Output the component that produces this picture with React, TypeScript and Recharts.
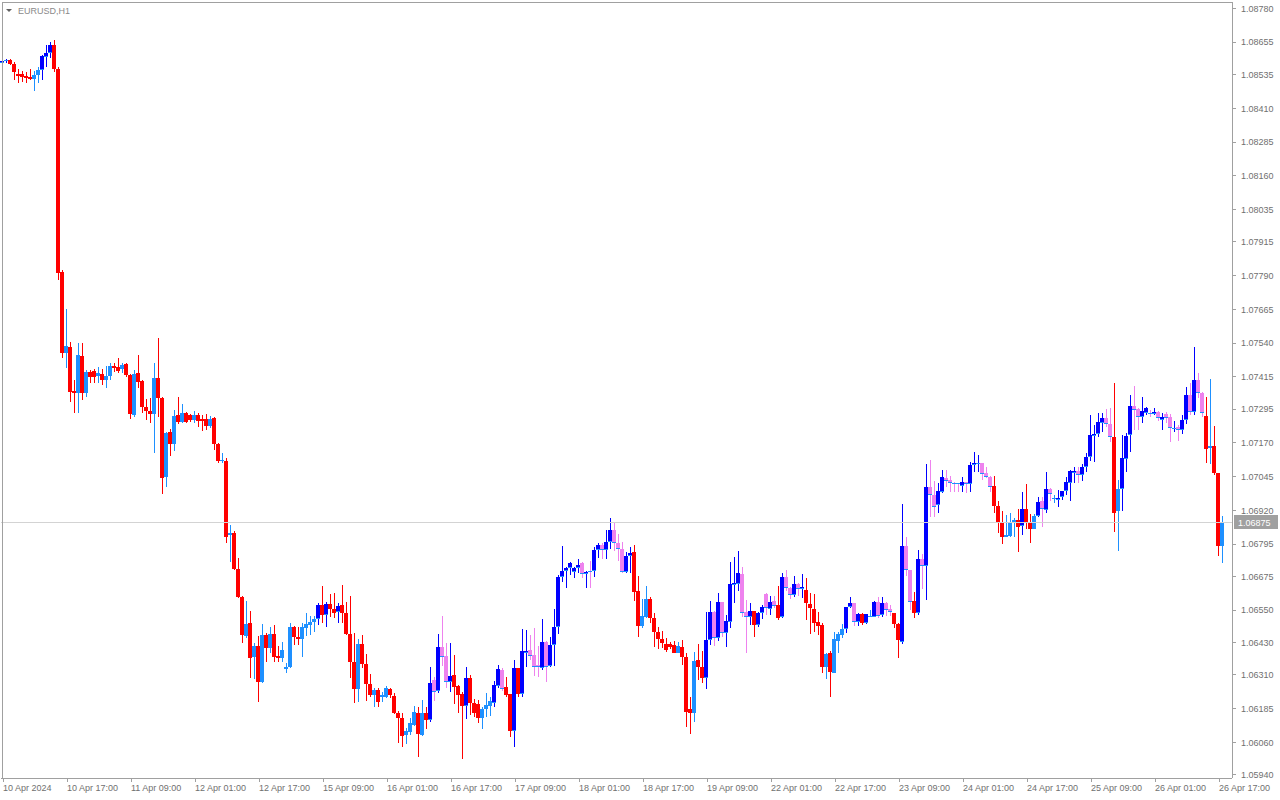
import { Bar, ComposedChart, ReferenceLine, XAxis, YAxis } from "recharts";

// EURUSD H1 candles, 10 Apr 01:00 .. 26 Apr 18:00 (306 bars)
const OPEN = [
  1.08578, 1.08585, 1.08589, 1.08574, 1.08537, 1.08537, 1.0853, 1.08526, 1.08519, 1.08533,
  1.08552, 1.086, 1.08615, 1.08644, 1.08556, 1.07803, 1.07503, 1.07525, 1.07362, 1.07355,
  1.07492, 1.07355, 1.07432, 1.07436, 1.07418, 1.07425, 1.07403, 1.07418, 1.07455, 1.07451,
  1.07444, 1.07462, 1.07421, 1.07273, 1.07429, 1.07399, 1.07303, 1.07288, 1.07277, 1.0741,
  1.07336, 1.07043, 1.0721, 1.07166, 1.07273, 1.07247, 1.07281, 1.07273, 1.07255, 1.07273,
  1.07258, 1.07258, 1.07232, 1.07262, 1.07166, 1.07103, 1.07103, 1.06828, 1.06836, 1.06702,
  1.06599, 1.06454, 1.06502, 1.06376, 1.06417, 1.06284, 1.06458, 1.0641, 1.06462, 1.0638,
  1.06372, 1.06332, 1.06339, 1.06487, 1.0645, 1.06443, 1.06484, 1.06495, 1.06506, 1.06517,
  1.06569, 1.06532, 1.06573, 1.06554, 1.06543, 1.06569, 1.06539, 1.06462, 1.06358, 1.06258,
  1.06424, 1.0635, 1.06276, 1.06235, 1.06254, 1.06228, 1.06228, 1.06258, 1.06232, 1.06169,
  1.0615, 1.06087, 1.06098, 1.06124, 1.06169, 1.06087, 1.06169, 1.06143, 1.06291, 1.0625,
  1.06413, 1.0638, 1.06284, 1.0631, 1.06269, 1.06239, 1.06195, 1.06298, 1.06206, 1.06202,
  1.0615, 1.06184, 1.06195, 1.06206, 1.06269, 1.06328, 1.06265, 1.06239, 1.06102, 1.06335,
  1.06239, 1.06391, 1.06402, 1.06384, 1.06347, 1.06335, 1.06432, 1.06343, 1.06421, 1.06487,
  1.06673, 1.06695, 1.06706, 1.06691, 1.06706, 1.06725, 1.06684, 1.06695, 1.06695, 1.06773,
  1.06791, 1.06773, 1.06802, 1.06847, 1.06799, 1.06777, 1.06691, 1.06751, 1.06765, 1.06621,
  1.06491, 1.06524, 1.06591, 1.06521, 1.06469, 1.06443, 1.06424, 1.06424, 1.06421, 1.06391,
  1.06413, 1.06376, 1.06184, 1.06169, 1.06365, 1.06339, 1.06298, 1.06439, 1.06543, 1.06447,
  1.0658, 1.06465, 1.06506, 1.06643, 1.06647, 1.06684, 1.06543, 1.06524, 1.06547, 1.06495,
  1.06539, 1.0661, 1.06554, 1.06584, 1.06569, 1.06524, 1.06673, 1.06632, 1.06606, 1.06647,
  1.06628, 1.06625, 1.06573, 1.06554, 1.06506, 1.06495, 1.06339, 1.06391, 1.06317, 1.06436,
  1.06458, 1.0648, 1.06562, 1.06576, 1.06506, 1.06536, 1.06502, 1.06524, 1.06524, 1.0658,
  1.06532, 1.06576, 1.06554, 1.06539, 1.06499, 1.06432, 1.06788, 1.06699, 1.06584, 1.06539,
  1.06739, 1.06713, 1.07006, 1.06977, 1.0694, 1.06988, 1.0704, 1.07032, 1.07021, 1.07021,
  1.0701, 1.07025, 1.07017, 1.07088, 1.07092, 1.07095, 1.07058, 1.07043, 1.0701, 1.06936,
  1.06873, 1.06821, 1.06825, 1.06873, 1.06884, 1.06862, 1.06925, 1.06873, 1.06851, 1.06899,
  1.06954, 1.06921, 1.06999, 1.06962, 1.06958, 1.06969, 1.06991, 1.07021, 1.07058, 1.07066,
  1.07051, 1.07081, 1.07118, 1.07195, 1.07203, 1.07244, 1.07262, 1.0724, 1.07192, 1.06917,
  1.06999, 1.0711, 1.07199, 1.07307, 1.07295, 1.07266, 1.07281, 1.07281, 1.07277, 1.07284,
  1.07255, 1.07277, 1.07266, 1.07221, 1.07229, 1.07218, 1.07255, 1.07347, 1.07284, 1.07403,
  1.07355, 1.0727, 1.07151, 1.07158, 1.07058, 1.06788,
];

const HIGH = [
  1.08596, 1.08593, 1.08593, 1.08582, 1.08556, 1.08548, 1.08544, 1.08556, 1.08548, 1.08563,
  1.08607, 1.08644, 1.08655, 1.08663, 1.08563, 1.07811, 1.07666, 1.07544, 1.07403, 1.0754,
  1.0754, 1.0744, 1.0744, 1.07444, 1.07451, 1.07444, 1.07455, 1.07466, 1.07466, 1.07484,
  1.07466, 1.07466, 1.07425, 1.0744, 1.07496, 1.07403, 1.07332, 1.07336, 1.07466, 1.07559,
  1.0734, 1.0721, 1.07221, 1.07292, 1.0734, 1.07314, 1.07284, 1.07277, 1.07288, 1.07281,
  1.07273, 1.07277, 1.0727, 1.07266, 1.07169, 1.07132, 1.07114, 1.06865, 1.06843, 1.06743,
  1.06602, 1.06584, 1.06547, 1.06428, 1.06454, 1.06499, 1.06465, 1.06487, 1.06495, 1.06417,
  1.06432, 1.06354, 1.06502, 1.06491, 1.06487, 1.06502, 1.06539, 1.06528, 1.06528, 1.06576,
  1.06639, 1.0658, 1.0661, 1.06613, 1.06576, 1.06643, 1.0658, 1.06602, 1.06465, 1.06443,
  1.06458, 1.06387, 1.06313, 1.06261, 1.06261, 1.06247, 1.06269, 1.06261, 1.06243, 1.06176,
  1.06169, 1.06113, 1.0615, 1.06195, 1.06191, 1.06217, 1.06191, 1.06339, 1.06302, 1.06462,
  1.06528, 1.06428, 1.06428, 1.06384, 1.06273, 1.06247, 1.06339, 1.0631, 1.06221, 1.06217,
  1.06191, 1.06243, 1.06228, 1.06287, 1.06347, 1.06335, 1.06302, 1.06239, 1.06365, 1.06335,
  1.0648, 1.06476, 1.06458, 1.06484, 1.06417, 1.06517, 1.06436, 1.0645, 1.06554, 1.0668,
  1.06788, 1.0671, 1.06728, 1.0671, 1.06739, 1.06728, 1.06695, 1.06732, 1.06784, 1.06799,
  1.06799, 1.06847, 1.06891, 1.06873, 1.06832, 1.06802, 1.06765, 1.06784, 1.06791, 1.06677,
  1.06591, 1.06639, 1.06599, 1.06539, 1.06487, 1.06473, 1.06447, 1.06432, 1.06436, 1.06432,
  1.06439, 1.06391, 1.06228, 1.06395, 1.06424, 1.06398, 1.06543, 1.06584, 1.06547, 1.06613,
  1.0658, 1.06532, 1.06728, 1.06747, 1.06769, 1.0671, 1.06587, 1.06576, 1.06547, 1.06543,
  1.06569, 1.06613, 1.06602, 1.06602, 1.06639, 1.06688, 1.06699, 1.06636, 1.06677, 1.0665,
  1.06684, 1.06669, 1.06613, 1.0661, 1.06543, 1.06502, 1.06391, 1.06398, 1.06469, 1.06469,
  1.06499, 1.06562, 1.06599, 1.06576, 1.06539, 1.06539, 1.06536, 1.0655, 1.06584, 1.06599,
  1.06599, 1.0658, 1.06569, 1.06539, 1.06502, 1.06943, 1.06821, 1.06699, 1.06617, 1.06773,
  1.06758, 1.07092, 1.07106, 1.07029, 1.07021, 1.07069, 1.07069, 1.07047, 1.07025, 1.07021,
  1.07043, 1.07025, 1.07099, 1.07136, 1.07125, 1.07095, 1.07081, 1.07047, 1.07047, 1.06954,
  1.06917, 1.06902, 1.0691, 1.06891, 1.06925, 1.06988, 1.07017, 1.06906, 1.06906, 1.06969,
  1.06969, 1.07062, 1.07003, 1.06977, 1.06995, 1.06991, 1.07043, 1.07069, 1.07081, 1.07081,
  1.07092, 1.07132, 1.07273, 1.07236, 1.07281, 1.07281, 1.07295, 1.07299, 1.07392, 1.07032,
  1.07199, 1.07207, 1.07347, 1.07381, 1.07299, 1.0734, 1.07303, 1.07292, 1.07299, 1.07288,
  1.07281, 1.07284, 1.07277, 1.07251, 1.07236, 1.07273, 1.07377, 1.07392, 1.07525, 1.07429,
  1.07358, 1.0734, 1.07407, 1.07232, 1.07058, 1.06899,
];

const LOW = [
  1.08563, 1.08578, 1.0857, 1.08515, 1.08504, 1.08508, 1.08504, 1.08515, 1.08474, 1.08504,
  1.08515, 1.08563, 1.08596, 1.08544, 1.07774, 1.07484, 1.07447, 1.07321, 1.07281, 1.07281,
  1.07329, 1.0734, 1.07392, 1.07392, 1.07392, 1.07384, 1.07373, 1.07403, 1.07432, 1.07429,
  1.07429, 1.07414, 1.07258, 1.07266, 1.07373, 1.07281, 1.07255, 1.07244, 1.07132, 1.07266,
  1.0698, 1.07006, 1.07121, 1.0714, 1.0724, 1.07244, 1.07244, 1.07247, 1.07244, 1.07229,
  1.07214, 1.07218, 1.07225, 1.07143, 1.07095, 1.07095, 1.06799, 1.06728, 1.06699, 1.06595,
  1.06428, 1.06447, 1.06298, 1.06295, 1.06209, 1.0628, 1.06358, 1.06391, 1.06358, 1.06358,
  1.06358, 1.06317, 1.06335, 1.06421, 1.06421, 1.06376, 1.06454, 1.06458, 1.06469, 1.06495,
  1.06502, 1.06487, 1.06524, 1.06521, 1.06502, 1.06502, 1.06458, 1.06298, 1.06206, 1.06209,
  1.06335, 1.06213, 1.06228, 1.06191, 1.06191, 1.06209, 1.06224, 1.06224, 1.06165, 1.06057,
  1.06043, 1.06054, 1.06087, 1.06121, 1.06006, 1.06083, 1.06109, 1.06135, 1.06213, 1.06243,
  1.06343, 1.06261, 1.06247, 1.06202, 1.06169, 1.05998, 1.06146, 1.06161, 1.06154, 1.06132,
  1.06109, 1.06154, 1.06158, 1.06191, 1.06261, 1.0625, 1.06228, 1.0608, 1.06043, 1.06228,
  1.06228, 1.06339, 1.06365, 1.06306, 1.06302, 1.06328, 1.06284, 1.06339, 1.06343, 1.06462,
  1.06654, 1.06632, 1.0668, 1.06669, 1.06688, 1.06669, 1.06632, 1.06632, 1.06673, 1.06743,
  1.06739, 1.06739, 1.06777, 1.06769, 1.06732, 1.06688, 1.06688, 1.06688, 1.06584, 1.0645,
  1.06484, 1.06521, 1.06502, 1.06413, 1.06406, 1.0641, 1.06395, 1.06406, 1.06391, 1.06391,
  1.06347, 1.06117, 1.06091, 1.06135, 1.06291, 1.0628, 1.06258, 1.06421, 1.06417, 1.06436,
  1.0645, 1.06413, 1.06484, 1.06576, 1.06621, 1.06524, 1.06391, 1.06495, 1.0645, 1.06487,
  1.06517, 1.06532, 1.06532, 1.06558, 1.06513, 1.06521, 1.06621, 1.06591, 1.06599, 1.06602,
  1.06595, 1.06513, 1.06462, 1.06469, 1.06458, 1.06317, 1.06295, 1.06228, 1.06317, 1.06391,
  1.06447, 1.06465, 1.06558, 1.06491, 1.06491, 1.06495, 1.06499, 1.06524, 1.06524, 1.06521,
  1.06524, 1.06528, 1.06528, 1.06484, 1.06372, 1.06424, 1.06677, 1.0655, 1.06521, 1.06532,
  1.06628, 1.06588, 1.06895, 1.06895, 1.0691, 1.06984, 1.07006, 1.06988, 1.06988, 1.06988,
  1.06988, 1.06984, 1.06988, 1.07062, 1.07062, 1.07032, 1.0704, 1.06988, 1.0691, 1.06836,
  1.06795, 1.06821, 1.06821, 1.06821, 1.06765, 1.06828, 1.06851, 1.06799, 1.06851, 1.06895,
  1.06858, 1.0691, 1.06954, 1.06947, 1.06932, 1.06958, 1.06977, 1.06954, 1.07021, 1.07021,
  1.07029, 1.07062, 1.07103, 1.07099, 1.07192, 1.0721, 1.07229, 1.07173, 1.0684, 1.06769,
  1.06917, 1.07062, 1.07136, 1.07218, 1.07218, 1.07244, 1.07273, 1.07266, 1.07273, 1.07251,
  1.07218, 1.07244, 1.07173, 1.0721, 1.07177, 1.07203, 1.0724, 1.07273, 1.07273, 1.07336,
  1.07266, 1.07095, 1.07092, 1.07051, 1.06751, 1.06725,
];

const CLOSE = [
  1.08585, 1.08589, 1.08574, 1.08544, 1.0853, 1.08526, 1.08522, 1.08519, 1.08533, 1.08552,
  1.08604, 1.08615, 1.08644, 1.08556, 1.078, 1.07503, 1.07529, 1.07358, 1.07355, 1.07496,
  1.07355, 1.07432, 1.07414, 1.07414, 1.07429, 1.07403, 1.07418, 1.07455, 1.07447, 1.07436,
  1.07459, 1.07421, 1.07277, 1.07425, 1.07396, 1.07303, 1.07288, 1.07277, 1.0741, 1.07336,
  1.0704, 1.07207, 1.07166, 1.0727, 1.07247, 1.07281, 1.07247, 1.07255, 1.07273, 1.07251,
  1.07251, 1.07232, 1.07258, 1.07166, 1.07103, 1.07106, 1.06821, 1.06836, 1.06702, 1.06599,
  1.06458, 1.06499, 1.06372, 1.06417, 1.06284, 1.06458, 1.0641, 1.06462, 1.06376, 1.06372,
  1.06402, 1.06339, 1.06487, 1.0645, 1.06443, 1.06487, 1.06499, 1.06506, 1.06517, 1.06569,
  1.06532, 1.06573, 1.06554, 1.06539, 1.06565, 1.06539, 1.06462, 1.06358, 1.06258, 1.06424,
  1.0635, 1.06276, 1.06235, 1.06254, 1.06209, 1.06235, 1.06261, 1.06235, 1.06169, 1.0615,
  1.06083, 1.06102, 1.06132, 1.06172, 1.06091, 1.06169, 1.06143, 1.0628, 1.06247, 1.06413,
  1.06376, 1.06284, 1.06306, 1.06265, 1.06235, 1.06195, 1.06298, 1.06206, 1.06169, 1.0615,
  1.06184, 1.06198, 1.06213, 1.06273, 1.06332, 1.06258, 1.06235, 1.06102, 1.06335, 1.06239,
  1.06398, 1.06398, 1.0638, 1.06339, 1.06339, 1.06432, 1.06339, 1.06421, 1.06487, 1.06673,
  1.06695, 1.06706, 1.06725, 1.06706, 1.06717, 1.06684, 1.06691, 1.06691, 1.06773, 1.06791,
  1.06773, 1.06802, 1.06847, 1.06799, 1.06777, 1.06691, 1.06751, 1.06762, 1.06617, 1.06491,
  1.06528, 1.06591, 1.06521, 1.06469, 1.06443, 1.06428, 1.06402, 1.06413, 1.06391, 1.06417,
  1.06376, 1.06172, 1.06169, 1.06361, 1.06339, 1.06298, 1.06439, 1.06543, 1.06447, 1.0658,
  1.06465, 1.0651, 1.06647, 1.0665, 1.06688, 1.06539, 1.06524, 1.06547, 1.06495, 1.06539,
  1.06562, 1.06558, 1.0658, 1.06565, 1.06521, 1.06673, 1.06632, 1.06606, 1.06647, 1.06628,
  1.06636, 1.06576, 1.06558, 1.06502, 1.06491, 1.06339, 1.06387, 1.06321, 1.06443, 1.06462,
  1.0648, 1.06562, 1.06576, 1.06506, 1.06536, 1.06502, 1.06536, 1.06528, 1.0658, 1.06528,
  1.06576, 1.0655, 1.06543, 1.06499, 1.06439, 1.06788, 1.06699, 1.0658, 1.06539, 1.06739,
  1.06713, 1.07006, 1.06977, 1.06932, 1.06991, 1.07043, 1.07029, 1.07021, 1.07017, 1.07017,
  1.07025, 1.07017, 1.07088, 1.07095, 1.07095, 1.07055, 1.07043, 1.07006, 1.06936, 1.06873,
  1.06821, 1.06828, 1.06877, 1.06884, 1.06858, 1.06925, 1.06873, 1.06851, 1.06899, 1.06951,
  1.06925, 1.06999, 1.0698, 1.06966, 1.06966, 1.06991, 1.07025, 1.07066, 1.07066, 1.07051,
  1.07081, 1.07118, 1.07199, 1.07203, 1.07247, 1.07262, 1.0724, 1.07192, 1.0691, 1.06999,
  1.07114, 1.07195, 1.07307, 1.07292, 1.07266, 1.07288, 1.07299, 1.07277, 1.07284, 1.07262,
  1.07266, 1.07262, 1.07225, 1.07225, 1.07218, 1.07255, 1.07347, 1.07284, 1.07403, 1.07355,
  1.07281, 1.07147, 1.07158, 1.07058, 1.06788, 1.06875,
];

// indicator state per bar: B = up, L = up (weak), R = down, V = down (weak)
const STATE = (
  "BBRRRRRRLLBBBRRRLRRL" + "RLRRLRLLRRLRRLRRRRLR" + "RLRLRLRRLRRRLRRLRLRR" +
  "RLRLRLRLRRLLLRRLLLLB" + "RBRRBRRRRLRRRLRLLRRR" + "RLLLRLRBVBVVBRRRBRRR" +
  "LLLBBVRRBRBBVVVBVBBB" + "BBBBBVBVBBVBBVVVBBRR" + "LLRRRRRRRLRRRLRRBBVB" +
  "VBBBBVVBRBBVBVRBVVBV" + "BRRRRRLRLLLBBVBRBLBV" + "BVVRRBVVRBVBVVBBVVVV" +
  "BVBBBVVVRRRLLLRBRRLB" + "VBVLBBBBBVBBBBBBVVRL" + "BBBVVBBVBVBVVBVBBVBV" + "VRLRRL"
).split("");

const TIME_TICKS = [0, 16, 32, 48, 64, 80, 96, 112, 128, 144, 160, 176, 192, 208, 224, 240, 256, 272, 288, 304];
const TIME_LABELS = [
  "10 Apr 2024", "10 Apr 17:00", "11 Apr 09:00", "12 Apr 01:00", "12 Apr 17:00",
  "15 Apr 09:00", "16 Apr 01:00", "16 Apr 17:00", "17 Apr 09:00", "18 Apr 01:00",
  "18 Apr 17:00", "19 Apr 09:00", "22 Apr 01:00", "22 Apr 17:00", "23 Apr 09:00",
  "24 Apr 01:00", "24 Apr 17:00", "25 Apr 09:00", "26 Apr 01:00", "26 Apr 17:00",
];

const PRICE_TICKS = [
  1.0878, 1.08655, 1.08535, 1.0841, 1.08285, 1.0816, 1.08035, 1.07915, 1.0779, 1.07665,
  1.0754, 1.07415, 1.07295, 1.0717, 1.07045, 1.0692, 1.06795, 1.06675, 1.0655, 1.0643,
  1.0631, 1.06185, 1.0606, 1.0594,
];

const LAST_PRICE = 1.06875;

const COLORS: Record<string, string> = {
  B: "#0000ff",
  L: "#1e90ff",
  R: "#ff0000",
  V: "#ee82ee",
};

const FONT = "'Liberation Sans', Arial, sans-serif";
const AXIS_GRAY = "#a0a0a0";
const TEXT_GRAY = "#707070";

const data = OPEN.map((open, i) => ({
  i,
  open,
  high: HIGH[i],
  low: LOW[i],
  close: CLOSE[i],
  state: STATE[i],
  range: [LOW[i], HIGH[i]],
}));

function Candle(props: any) {
  const { x, y, width, height, payload } = props;
  if (!payload) return null;
  const { open, high, low, close, state } = payload;
  const color = COLORS[state];
  const yTop = Math.min(y, y + height);
  const h = Math.abs(height);
  const k = high === low ? 0 : h / (high - low);
  const toY = (v: number) => yTop + (high - v) * k;
  const cx = Math.floor(x + width / 2);
  const bodyTop = Math.round(toY(Math.max(open, close)));
  const bodyBot = Math.max(bodyTop + 1, Math.round(toY(Math.min(open, close))));
  const wickTop = Math.round(yTop);
  const wickBot = Math.max(wickTop + 1, Math.round(yTop + h));
  const marker = state === "B" || state === "V";
  return (
    <g>
      <rect x={cx} y={wickTop} width={1} height={wickBot - wickTop} fill={color} />
      <rect x={cx - 2} y={bodyTop} width={4} height={bodyBot - bodyTop} fill={color} />
      {marker && <rect x={cx - 2} y={bodyBot - 1} width={4} height={1} fill="#1e90ff" />}
    </g>
  );
}

function TimeTick({ x, y, payload }: any) {
  const idx = TIME_TICKS.indexOf(payload.value);
  return (
    <text x={x} y={y + 9} textAnchor="start" fontSize={9} fontFamily={FONT} fill={TEXT_GRAY}>
      {TIME_LABELS[idx]}
    </text>
  );
}

function PriceTag({ viewBox }: any) {
  const left = viewBox.x + viewBox.width + 2;
  const cy = Math.round(viewBox.y);
  return (
    <g>
      <rect x={left} y={cy - 7} width={44} height={14} fill="#a0a0a0" />
      <text x={left + 4} y={cy + 3.5} fontSize={9} fontFamily={FONT} fill="#ffffff">
        {LAST_PRICE.toFixed(5)}
      </text>
    </g>
  );
}

export default function App() {
  return (
    <div style={{ position: "absolute", left: 0, top: 0, width: 1280, height: 800, background: "#fff" }}>
      <ComposedChart
        width={1280}
        height={800}
        data={data}
        margin={{ top: 2, right: 0, bottom: 0, left: 1 }}
        style={{ shapeRendering: "crispEdges" }}
      >
        <XAxis
          dataKey="i"
          ticks={TIME_TICKS}
          interval={0}
          height={22}
          padding={{ left: 0, right: 7 }}
          tick={<TimeTick />}
          tickSize={4}
          tickMargin={0}
          stroke={AXIS_GRAY}
          axisLine={{ stroke: AXIS_GRAY }}
          tickLine={{ stroke: AXIS_GRAY }}
        />
        <YAxis
          orientation="right"
          width={48}
          domain={[1.05928, 1.08804]}
          allowDataOverflow
          ticks={PRICE_TICKS}
          interval={0}
          tickFormatter={(v: number) => v.toFixed(5)}
          tick={{ fontSize: 9, fontFamily: FONT, fill: TEXT_GRAY }}
          tickSize={4}
          tickMargin={5}
          axisLine={{ stroke: AXIS_GRAY }}
          tickLine={{ stroke: AXIS_GRAY }}
        />
        <ReferenceLine y={LAST_PRICE} stroke="#d3d3d3" strokeWidth={1} label={<PriceTag />} />
        <Bar dataKey="range" barSize={4} shape={<Candle />} isAnimationActive={false} />
      </ComposedChart>
      <div
        style={{
          position: "absolute",
          left: 2,
          top: 2,
          width: 1230,
          height: 776,
          borderLeft: `1px solid ${AXIS_GRAY}`,
          borderTop: `1px solid ${AXIS_GRAY}`,
          pointerEvents: "none",
        }}
      />
      <svg style={{ position: "absolute", left: 0, top: 0 }} width={90} height={20}>
        <polygon points="6,9 12,9 9,12" fill="#606060" />
        <text x={18} y={14} fontSize={9} fontFamily={FONT} fill="#8a8a8a">
          EURUSD,H1
        </text>
      </svg>
    </div>
  );
}
